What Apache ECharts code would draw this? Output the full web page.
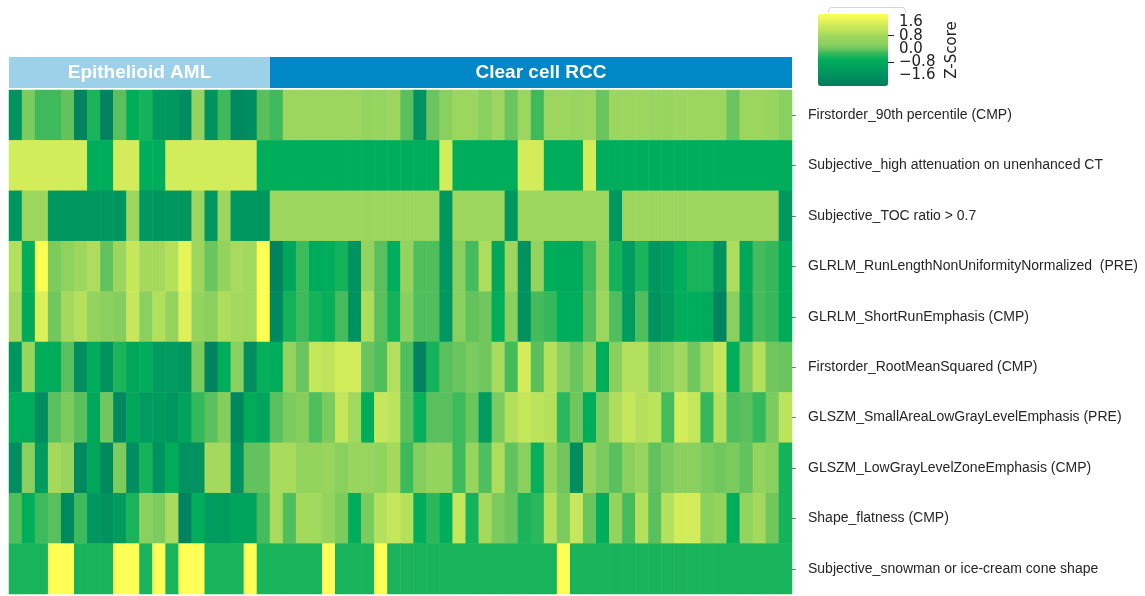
<!DOCTYPE html>
<html><head><meta charset="utf-8">
<script src="https://cdn.jsdelivr.net/npm/echarts@6/dist/echarts.min.js"></script>
<style>html,body{margin:0;padding:0;background:#fff}#c{width:1145px;height:596px}</style>
</head><body><div id="c"></div>
<script>
// ---------- data ----------
const features = [
  'Firstorder_90th percentile (CMP)',
  'Subjective_high attenuation on unenhanced CT',
  'Subjective_TOC ratio > 0.7',
  'GLRLM_RunLengthNonUniformityNormalized  (PRE)',
  'GLRLM_ShortRunEmphasis (CMP)',
  'Firstorder_RootMeanSquared (CMP)',
  'GLSZM_SmallAreaLowGrayLevelEmphasis (PRE)',
  'GLSZM_LowGrayLevelZoneEmphasis (CMP)',
  'Shape_flatness (CMP)',
  'Subjective_snowman or ice-cream cone shape'
];
const groupNames = ['Epithelioid AML', 'Clear cell RCC'];
const groupSizes = [20, 40];
const zTicksA = [-1.6, 0.0, 1.6];
const zTicksB = [-0.8, 0.8];
const zMin = -2.25, zMax = 2.11;

const firstorder90 = [-1.6,0.15,-0.25,-0.25,-0.05,-2.0,-0.45,-2.0,-0.1,-0.7,-0.5,-1.35,-1.45,-1.7,0.5,-1.6,-0.25,-1.85,-1.7,-0.1,
  -0.25,0.68,0.68,0.68,0.68,0.68,0.68,0.55,0.55,0.68,-0.1,-1.6,0.0,0.3,0.68,0.68,0.3,0.68,0.0,0.68,
  -0.25,0.68,0.68,0.6,0.68,0.0,0.68,0.68,0.68,0.6,0.6,0.68,0.68,0.68,0.68,0.0,0.68,0.68,0.6,0.3];
const highAtten = [1.47,1.47,1.47,1.47,1.47,1.47,-0.68,-0.68,1.47,1.47,-0.68,-0.68,1.47,1.47,1.47,1.47,1.47,1.47,1.47,-0.68,
  -0.68,-0.68,-0.68,-0.68,-0.68,-0.68,-0.68,-0.68,-0.68,-0.68,-0.68,-0.68,-0.68,1.47,-0.68,-0.68,-0.68,-0.68,-0.68,1.47,
  1.47,-0.68,-0.68,-0.68,1.47,-0.68,-0.68,-0.68,-0.68,-0.68,-0.68,-0.68,-0.68,-0.68,-0.68,-0.68,-0.68,-0.68,-0.68,-0.68];
const tocRatio = [-1.47,0.68,0.68,-1.47,-1.47,-1.47,-1.47,-1.47,-1.47,0.68,-1.47,-1.47,-1.47,-1.47,0.68,-1.47,0.68,-1.47,-1.47,-1.47,
  0.68,0.68,0.68,0.68,0.68,0.68,0.68,0.68,0.68,0.68,0.68,0.68,0.68,-1.47,0.68,0.68,0.68,0.68,-1.47,0.68,
  0.68,0.68,0.68,0.68,0.68,0.68,-1.47,0.68,0.68,0.68,0.68,0.68,0.68,0.68,0.68,0.68,0.68,0.68,0.68,-1.47];
const glrlmRLNN = [1.0,-0.68,2.1,0.15,0.4,0.68,0.95,-0.05,0.68,1.3,0.8,0.8,1.05,1.75,0.68,0.0,0.5,0.85,0.75,2.1,
  -2.0,-0.9,-0.25,-0.8,-0.68,-0.5,-1.6,0.5,-0.1,-0.68,0.5,-0.15,-0.15,-1.47,0.3,-0.2,0.95,-0.9,0.68,-1.6,
  0.5,-0.68,-0.8,-0.8,-0.25,0.5,-0.5,-1.3,-0.45,-1.47,-1.3,-0.68,-0.47,-0.47,-1.6,0.95,-0.9,-0.2,-0.3,-0.8];
const glrlmSRE = [0.8,-0.8,1.6,0.05,0.8,1.05,0.5,0.3,0.25,1.3,0.3,1.0,0.5,1.6,0.5,0.3,0.95,0.8,0.75,2.1,
  -1.85,-0.5,-0.25,-0.5,-0.6,-0.2,-1.6,0.95,-0.1,-0.5,0.3,-0.15,-0.15,-1.47,0.3,-0.05,0.05,-0.68,0.3,-1.6,
  -0.2,-0.3,-0.68,-0.7,-0.15,0.68,-0.15,-1.3,-0.15,-1.6,-1.3,-0.68,-0.68,-0.8,-2.0,0.3,-1.0,-0.2,-0.3,-0.8];
const firstorderRMS = [-1.47,0.6,-0.68,-0.75,-0.1,-1.7,-0.68,-1.6,-0.45,-0.9,-0.68,-1.3,-1.3,-1.47,0.15,-2.0,-0.68,0.3,-1.7,-0.6,
  -0.7,0.5,0.0,1.25,1.2,1.47,1.47,0.0,-0.15,1.0,-0.15,-2.0,-0.5,-0.1,0.0,0.15,0.05,0.85,-0.2,1.47,
  -0.1,1.05,0.3,0.0,0.5,-0.68,0.3,1.0,1.0,0.15,0.3,0.75,0.05,0.75,1.3,-0.68,0.15,1.05,0.05,0.0];
const glszmSALGLE = [-0.68,-0.75,-1.7,-0.1,0.15,-0.1,-0.9,0.05,-1.85,-0.9,-1.3,-1.3,-1.47,-1.0,-0.3,-0.1,0.25,-1.85,-0.75,-1.0,
  -0.1,0.15,0.25,-0.15,0.15,1.25,0.75,-0.68,1.3,1.15,-0.1,-0.6,-0.1,-0.1,-0.25,0.0,-1.3,0.15,1.0,1.25,
  1.15,1.05,-0.35,0.05,-0.68,0.15,0.95,1.3,1.05,1.15,-0.2,1.47,1.25,-0.3,1.05,-0.15,-0.1,-0.3,0.15,1.15];
const glszmLGLZE = [-1.7,0.3,-1.3,0.8,0.6,-1.85,-0.9,-1.85,0.15,-1.7,-0.5,-1.6,-0.75,-1.6,-1.55,0.8,0.8,-1.6,-0.05,-0.05,
  0.85,0.85,0.5,0.5,0.6,0.3,0.6,0.6,0.4,0.8,-0.25,0.25,0.5,0.5,-0.25,0.6,-0.15,0.95,-0.05,0.3,
  -0.6,0.5,0.05,-1.7,0.5,0.15,-0.1,0.3,0.6,-0.05,0.15,0.3,0.3,0.15,0.05,0.15,-0.05,0.5,0.3,-0.5];
const shapeFlatness = [-0.15,-0.68,-0.25,-0.1,-1.85,-0.25,-1.47,-1.6,-1.3,-0.47,0.3,0.15,0.85,-2.0,-0.68,-1.3,-1.25,-1.0,-1.0,-0.2,
  0.85,-0.15,0.8,0.75,0.5,0.15,-0.68,0.15,1.05,1.3,1.05,-0.68,-0.35,-0.68,1.25,-0.5,0.8,0.15,0.0,-0.45,
  -0.35,1.05,0.15,1.3,0.0,-0.68,0.5,-0.2,1.05,-0.1,1.05,1.47,1.47,0.3,0.5,-0.68,0.5,0.8,0.05,-0.5];
const snowman = [-0.47,-0.47,-0.47,2.11,2.11,-0.47,-0.47,-0.47,2.11,2.11,-0.47,2.11,-0.47,2.11,2.11,-0.47,-0.47,-0.47,2.11,-0.47,
  -0.47,-0.47,-0.47,-0.47,2.11,-0.47,-0.47,-0.47,2.11,-0.47,-0.47,-0.47,-0.47,-0.47,-0.47,-0.47,-0.47,-0.47,-0.47,-0.47,
  -0.47,-0.47,2.11,-0.47,-0.47,-0.47,-0.47,-0.47,-0.47,-0.47,-0.47,-0.47,-0.47,-0.47,-0.47,-0.47,-0.47,-0.47,-0.47,-0.47];

const rows = [firstorder90, highAtten, tocRatio, glrlmRLNN, glrlmSRE, firstorderRMS, glszmSALGLE, glszmLGLZE, shapeFlatness, snowman];

// ---------- colour map ----------
const cmapVals = [-2.25,-1.47,-0.68,-0.47,-0.2,0.0,0.3,0.68,1.47,2.11];
const cmapCols = ['#007A5E','#00965F','#00AD5A','#17B35A','#45BB5C','#6CC55E','#8AD05E','#9CD65E','#D2EC5A','#FFFF55'];
function h2r(h){return [parseInt(h.slice(1,3),16),parseInt(h.slice(3,5),16),parseInt(h.slice(5,7),16)];}
function colorAt(v){
  if (v <= cmapVals[0]) return cmapCols[0];
  for (let i = 1; i < cmapVals.length; i++) {
    if (v <= cmapVals[i]) {
      const t = (v - cmapVals[i-1]) / (cmapVals[i] - cmapVals[i-1]);
      const a = h2r(cmapCols[i-1]), b = h2r(cmapCols[i]);
      return 'rgb(' + a.map((c, k) => Math.round(c + (b[k]-c)*t)).join(',') + ')';
    }
  }
  return cmapCols[cmapCols.length-1];
}
const ramp = [];
for (let i = 0; i < 90; i++) ramp.push(colorAt(zMin + (zMax - zMin) * i / 89));

// ---------- build ----------
const nCols = groupSizes.reduce((a,b)=>a+b,0);
const colNames = Array.from({length: nCols}, (_, i) => 'S' + (i+1));
const heat = [];
rows.forEach((r, yi) => r.forEach((v, xi) => heat.push([xi, yi, v])));
const groups = [];
let acc = 0;
groupSizes.forEach((n, i) => { groups.push([acc, acc + n, groupNames[i]]); acc += n; });
const groupColors = ['#9DD1EA', '#0087C5'];

const zFmt = v => (v < 0 ? '\u2212' + Math.abs(v).toFixed(1) : v.toFixed(1));
function zAxis(ticks) {
  return {type: 'value', min: zMin, max: zMax, gridIndex: 2, position: 'right', offset: 0,
    axisLine: {show: false}, splitLine: {show: false},
    axisTick: {show: true, length: 6, customValues: ticks, lineStyle: {color: '#222'}},
    axisLabel: {margin: 11, customValues: ticks, showMinLabel: true, showMaxLabel: true,
      fontFamily: 'DejaVu Sans', fontSize: 15, color: '#222', formatter: zFmt}};
}

const chart = echarts.init(document.getElementById('c'), null, {renderer: 'canvas'});
chart.setOption({
  animation: false,
  backgroundColor: '#fff',
  grid: [
    {show: false, left: 9, right: 353, top: 90, bottom: 2},
    {show: false, left: 9, right: 353, top: 57, height: 31},
    {show: false, left: 818, top: 14, width: 70, height: 72}
  ],
  xAxis: [
    {type: 'category', data: colNames, gridIndex: 0, show: false},
    {type: 'value', min: 0, max: nCols, gridIndex: 1, show: false},
    {type: 'value', min: 0, max: 1, gridIndex: 2, show: false}
  ],
  yAxis: [
    {type: 'category', data: features, gridIndex: 0, inverse: true, position: 'right',
      axisLine: {show: false}, splitLine: {show: false},
      axisTick: {show: true, length: 4, alignWithLabel: true, lineStyle: {color: '#777'}},
      axisLabel: {margin: 16, fontFamily: 'Liberation Sans', fontSize: 14, color: '#262626'}},
    {type: 'value', min: 0, max: 1, gridIndex: 1, show: false},
    zAxis(zTicksA),
    zAxis(zTicksB)
  ],
  visualMap: {
    type: 'continuous', seriesIndex: 0, dimension: 2, min: zMin, max: zMax,
    calculable: false, showLabel: false, text: null,
    left: 818, top: 14, itemWidth: 70, itemHeight: 72, padding: 0,
    inRange: {color: ramp}
  },
  graphic: [
    {type: 'polyline', shape: {points: [[828,13],[829,9],[831,7.5],[903,7.5],[905,9],[906,13]]},
      style: {fill: null, stroke: '#d4d4d4', lineWidth: 1}},
    {type: 'text', x: 952, y: 50, rotation: Math.PI / 2,
      style: {text: 'Z-Score', fontFamily: 'DejaVu Sans', fontSize: 15, fill: '#222', align: 'center', verticalAlign: 'middle'}}
  ],
  series: [
    {type: 'heatmap', xAxisIndex: 0, yAxisIndex: 0, data: heat, emphasis: {disabled: true}, itemStyle: {borderWidth: 0}},
    {type: 'custom', xAxisIndex: 1, yAxisIndex: 1, data: groups, silent: true,
      renderItem: function (params, api) {
        const s = api.coord([api.value(0), 1]);
        const e = api.coord([api.value(1), 0]);
        const i = params.dataIndex;
        return {type: 'group', children: [
          {type: 'rect', shape: {x: s[0], y: s[1], width: e[0] - s[0], height: e[1] - s[1]}, style: {fill: groupColors[i]}},
          {type: 'text', style: {text: groups[i][2], x: (s[0] + e[0]) / 2 + (i === 1 ? 10 : 0), y: (s[1] + e[1]) / 2,
            align: 'center', verticalAlign: 'middle', fill: '#fff', fontFamily: 'Liberation Sans', fontWeight: 'bold', fontSize: 19}}
        ]};
      }}
  ]
});
</script></body></html>
